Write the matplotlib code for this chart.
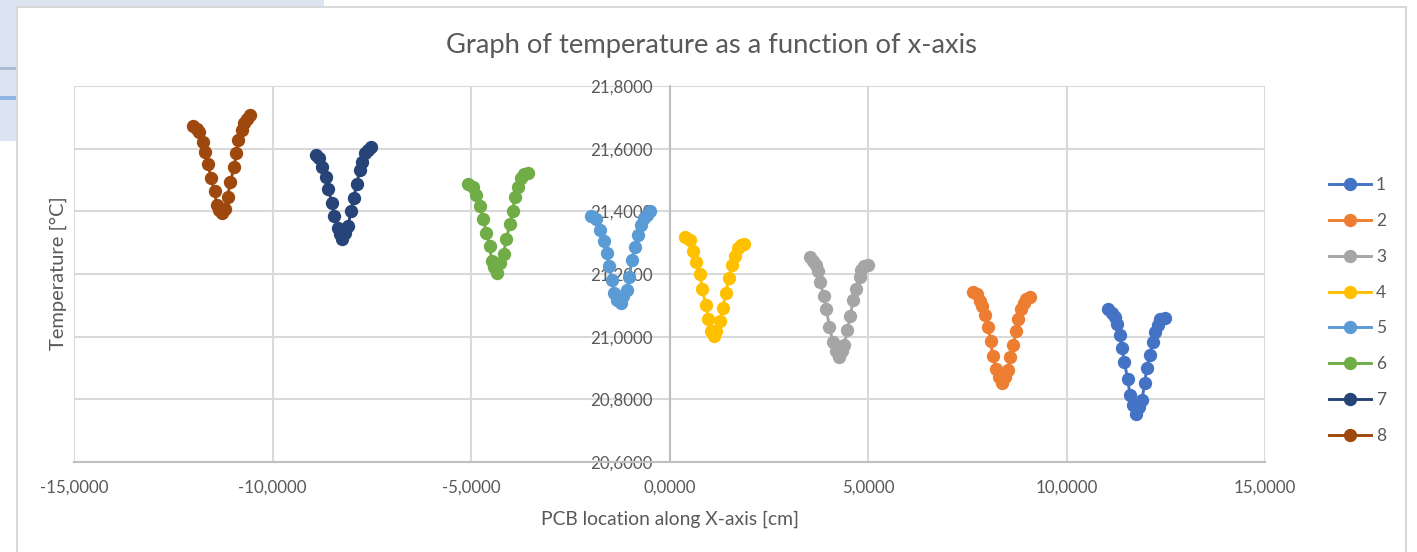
import matplotlib
matplotlib.use("Agg")
import matplotlib.pyplot as plt
from matplotlib.patches import Rectangle

plt.rcParams['font.family'] = ['Lato', 'DejaVu Sans']

# values, one pair of lists per series
x1 = [11.04, 11.15, 11.21, 11.27, 11.34, 11.39, 11.46, 11.54, 11.60, 11.67, 11.74, 11.82, 11.90, 11.97, 12.02, 12.10, 12.17, 12.23, 12.30, 12.36, 12.47]
y1 = [21.088, 21.074, 21.062, 21.040, 21.005, 20.965, 20.918, 20.864, 20.815, 20.782, 20.752, 20.776, 20.798, 20.851, 20.901, 20.941, 20.983, 21.016, 21.037, 21.055, 21.060]
x2 = [7.65, 7.74, 7.83, 7.88, 7.94, 8.02, 8.09, 8.14, 8.23, 8.31, 8.38, 8.46, 8.52, 8.58, 8.66, 8.73, 8.78, 8.86, 8.92, 8.99, 9.07]
y2 = [21.144, 21.136, 21.114, 21.098, 21.069, 21.030, 20.987, 20.937, 20.896, 20.872, 20.851, 20.872, 20.894, 20.936, 20.974, 21.017, 21.055, 21.087, 21.108, 21.120, 21.126]
x3 = [3.53, 3.61, 3.68, 3.74, 3.80, 3.88, 3.95, 4.03, 4.11, 4.20, 4.26, 4.34, 4.40, 4.48, 4.55, 4.63, 4.70, 4.79, 4.83, 4.89, 4.99]
y3 = [21.254, 21.242, 21.229, 21.209, 21.173, 21.131, 21.088, 21.032, 20.984, 20.955, 20.934, 20.955, 20.973, 21.020, 21.065, 21.117, 21.153, 21.189, 21.213, 21.225, 21.230]
x4 = [0.39, 0.52, 0.60, 0.68, 0.76, 0.83, 0.91, 0.98, 1.05, 1.11, 1.18, 1.27, 1.34, 1.42, 1.50, 1.57, 1.64, 1.72, 1.80, 1.87]
y4 = [21.319, 21.308, 21.274, 21.239, 21.199, 21.152, 21.101, 21.056, 21.018, 21.003, 21.018, 21.049, 21.090, 21.140, 21.186, 21.229, 21.257, 21.282, 21.293, 21.296]
x5 = [-1.97, -1.85, -1.75, -1.66, -1.58, -1.52, -1.45, -1.40, -1.32, -1.23, -1.16, -1.08, -1.01, -0.95, -0.86, -0.79, -0.72, -0.65, -0.57, -0.49]
y5 = [21.385, 21.375, 21.340, 21.306, 21.266, 21.225, 21.181, 21.138, 21.117, 21.106, 21.131, 21.149, 21.191, 21.245, 21.286, 21.324, 21.356, 21.378, 21.388, 21.401]
x6 = [-5.08, -4.95, -4.87, -4.77, -4.69, -4.61, -4.53, -4.48, -4.41, -4.34, -4.26, -4.18, -4.11, -4.02, -3.95, -3.90, -3.82, -3.75, -3.66, -3.57]
y6 = [21.487, 21.479, 21.452, 21.417, 21.375, 21.330, 21.289, 21.242, 21.221, 21.202, 21.234, 21.264, 21.313, 21.358, 21.400, 21.446, 21.479, 21.505, 21.518, 21.523]
x7 = [-8.90, -8.83, -8.75, -8.64, -8.59, -8.51, -8.44, -8.35, -8.30, -8.24, -8.18, -8.09, -8.03, -7.95, -7.88, -7.80, -7.75, -7.67, -7.59, -7.51]
y7 = [21.580, 21.569, 21.542, 21.509, 21.471, 21.428, 21.385, 21.346, 21.327, 21.313, 21.330, 21.354, 21.401, 21.443, 21.488, 21.531, 21.556, 21.587, 21.596, 21.605]
x8 = [-11.99, -11.91, -11.84, -11.76, -11.70, -11.62, -11.55, -11.46, -11.41, -11.34, -11.27, -11.19, -11.13, -11.06, -10.97, -10.91, -10.86, -10.78, -10.72, -10.65, -10.56]
y8 = [21.672, 21.664, 21.653, 21.622, 21.588, 21.551, 21.505, 21.466, 21.421, 21.404, 21.394, 21.406, 21.447, 21.495, 21.540, 21.585, 21.628, 21.660, 21.681, 21.695, 21.706]

colors = ['#4472C4', '#ED7D31', '#A5A5A5', '#FFC000', '#5B9BD5', '#70AD47', '#264478', '#9E480E']
xticks = [-15, -10, -5, 0, 5, 10, 15]
yticks = [20.6, 20.8, 21.0, 21.2, 21.4, 21.6, 21.8]

W, H = 1417, 552
fig = plt.figure(figsize=(W / 100, H / 100), dpi=100, facecolor='white')

# screenshot behind the chart: bit of another picture and the chart frame
fig.add_artist(Rectangle((0, 1 - 141 / H), 324 / W, 141 / H, transform=fig.transFigure, facecolor='#DCE4F2', edgecolor='none', zorder=-3))
fig.add_artist(Rectangle((0, 1 - 70 / H), 17 / W, 3 / H, transform=fig.transFigure, facecolor='#A9BDD2', edgecolor='none', zorder=-3))
fig.add_artist(Rectangle((0, 1 - 100 / H), 17 / W, 4 / H, transform=fig.transFigure, facecolor='#8FB4E3', edgecolor='none', zorder=-3))
fig.add_artist(Rectangle((17 / W, -0.02), 1389 / W, 1 - 7 / H + 0.02, transform=fig.transFigure, facecolor='white', edgecolor='#D9D9D9', linewidth=1.5, zorder=-2))

ax = fig.add_axes([74 / W, 1 - 462 / H, 1191 / W, 376 / H])
ax.patch.set_alpha(0)

series = [(x1, y1), (x2, y2), (x3, y3), (x4, y4), (x5, y5), (x6, y6), (x7, y7), (x8, y8)]
for i, (x, y) in enumerate(series):
    ax.plot(x, y, '-o', color=colors[i], lw=2.1, ms=9.6, mew=0, label=str(i + 1))

ax.set_xlim(-15, 15)
ax.set_ylim(20.6, 21.8)
ax.set_xticks(xticks)
ax.set_yticks(yticks)
ax.set_xticklabels([f"{v:.4f}".replace('.', ',') for v in xticks])
ax.set_yticklabels([f"{v:.4f}".replace('.', ',') for v in yticks])
ax.set_axisbelow(True)
ax.grid(True, color='#D9D9D9', lw=1.5)
ax.tick_params(length=0, labelsize=12.2, labelcolor='#595959')
ax.tick_params(axis='x', pad=13)
ax.tick_params(axis='y', pad=12)

# y axis crosses at x=0, labels sit next to it
ax.spines['left'].set_position(('data', 0))
ax.spines['left'].set_color('#BFBFBF')
ax.spines['left'].set_linewidth(1.5)
ax.spines['bottom'].set_color('#BFBFBF')
ax.spines['bottom'].set_linewidth(1.5)
ax.spines['top'].set_visible(False)
ax.spines['right'].set_visible(False)

fig.text(711 / W, 1 - 45 / H, "Graph of temperature as a function of x-axis", ha='center', va='center', fontsize=19.7, color='#595959')
fig.text(670 / W, 1 - 519 / H, "PCB location along X-axis [cm]", ha='center', va='center', fontsize=13.9, color='#595959')
fig.text(58 / W, 1 - 273 / H, "Temperature [°C]", ha='center', va='center', rotation=90, fontsize=14.5, color='#595959')

ax.legend(loc='center left', bbox_to_anchor=(1329 / W, 1 - 310.5 / H), bbox_transform=fig.transFigure, frameon=False,
          fontsize=12.5, labelcolor='#595959', labelspacing=1.14, handlelength=2.4, handletextpad=0.3, borderpad=0, borderaxespad=0)

fig.savefig("out.png", dpi=100, facecolor='white')
